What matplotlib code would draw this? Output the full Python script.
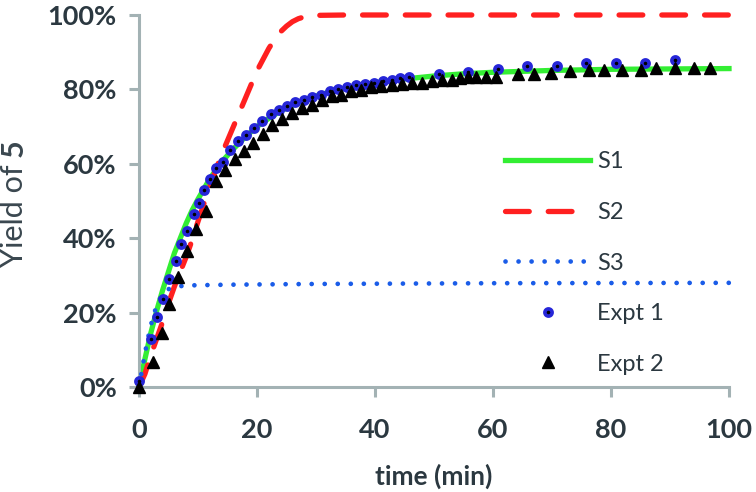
import matplotlib
matplotlib.use('Agg')
import matplotlib.pyplot as plt
from matplotlib.ticker import PercentFormatter

# model curves (time in min, yield as fraction)
s1_t = [0, 1, 2, 3, 4, 5, 6, 7, 8, 9, 10, 12, 14, 16, 18, 20, 22, 24, 26, 28, 30,
        33, 36, 40, 45, 50, 55, 60, 70, 80, 90, 100]
s1_y = [0, 0.075, 0.145, 0.205, 0.26, 0.31, 0.36, 0.40, 0.44, 0.475, 0.505, 0.56,
        0.605, 0.64, 0.672, 0.70, 0.722, 0.742, 0.757, 0.771, 0.782, 0.796, 0.807,
        0.818, 0.828, 0.836, 0.842, 0.846, 0.851, 0.854, 0.855, 0.856]

s2_t = [0, 1, 2, 3, 4, 5, 6, 7, 8, 9, 10, 12, 14, 16, 18, 20, 21, 22, 23, 24, 25,
        26, 27, 28, 30, 35, 100]
s2_y = [0, 0.035, 0.085, 0.13, 0.175, 0.225, 0.27, 0.31, 0.35, 0.395, 0.445, 0.54,
        0.625, 0.70, 0.775, 0.85, 0.88, 0.91, 0.935, 0.955, 0.97, 0.982, 0.99,
        0.995, 0.999, 1.0, 1.0]

s3_t = [0, 0.5, 1, 1.5, 2, 2.5, 3, 3.5, 4, 5, 6, 8, 15, 30, 60, 100]
s3_y = [0, 0.045, 0.09, 0.13, 0.165, 0.195, 0.218, 0.236, 0.249, 0.263, 0.269,
        0.273, 0.275, 0.277, 0.279, 0.28]

# experiments
e1_t = [0, 2.0, 3.0, 4.0, 5.1, 6.2, 7.2, 8.2, 9.3, 10.2, 11.1, 12.0, 13.0, 14.2,
        15.5, 16.8, 18.2, 19.5, 20.9, 22.3, 23.7, 25.1, 26.5, 27.9, 29.3, 30.8,
        32.3, 33.8, 35.3, 36.8, 38.3, 39.8, 41.3, 42.8, 44.3, 45.8, 50.8, 55.8,
        60.8, 65.8, 70.8, 75.8, 80.8, 85.8, 90.8]
e1_y = [0.015, 0.129, 0.187, 0.236, 0.29, 0.339, 0.385, 0.419, 0.464, 0.495, 0.529,
        0.560, 0.588, 0.606, 0.637, 0.660, 0.678, 0.696, 0.716, 0.733, 0.744, 0.755,
        0.766, 0.772, 0.779, 0.786, 0.795, 0.800, 0.806, 0.811, 0.814, 0.818, 0.822,
        0.826, 0.830, 0.832, 0.842, 0.848, 0.854, 0.862, 0.863, 0.871, 0.872, 0.872,
        0.879]

e2_t = [0, 2.3, 3.9, 5.0, 6.6, 8.1, 9.7, 11.3, 13.0, 14.6, 16.2, 17.8, 19.4, 21.0,
        22.6, 24.2, 25.9, 27.6, 29.3, 31.0, 32.7, 34.3, 36.0, 37.7, 39.4, 41.1, 42.8,
        44.5, 46.2, 47.9, 49.6, 51.3, 53.0, 54.4, 55.8, 57.2, 58.8, 60.5, 64.2, 66.9,
        69.9, 73.1, 76.3, 78.8, 81.9, 85.0, 87.7, 90.9, 94.0, 96.7]
e2_y = [0.0, 0.066, 0.146, 0.222, 0.297, 0.365, 0.424, 0.473, 0.553, 0.584, 0.612,
        0.634, 0.655, 0.680, 0.703, 0.721, 0.736, 0.750, 0.759, 0.772, 0.781, 0.786,
        0.795, 0.799, 0.806, 0.810, 0.812, 0.815, 0.817, 0.818, 0.822, 0.826, 0.826,
        0.830, 0.833, 0.833, 0.833, 0.834, 0.842, 0.842, 0.843, 0.849, 0.851, 0.851,
        0.851, 0.852, 0.857, 0.857, 0.857, 0.857]

text_col = '#2b3840'
axis_col = '#a3b2b4'

plt.rcParams['font.family'] = ['Lato', 'DejaVu Sans']

fig = plt.figure(figsize=(7.56, 4.92), dpi=100)
ax = fig.add_axes([139 / 756, 1 - 387 / 492, 590 / 756, 372 / 492])

ax.plot(s1_t, s1_y, color='#33ee33', lw=3.8, label='S1', clip_on=False, zorder=2)
ax.plot(s2_t, s2_y, color='#ff2020', lw=3.8, ls=(0, (4.5, 3.6)),
        dash_capstyle='round', label='S2', clip_on=False, zorder=3)
ax.plot(s3_t, s3_y, color='#1a5ce8', lw=3.4, ls=(0, (0.01, 2.75)),
        dash_capstyle='round', label='S3', clip_on=False, zorder=3)
ax.plot(e1_t, e1_y, ls='none', marker='o', ms=5.2, mfc='black', mec='#2626d8',
        mew=2.6, label='Expt 1', clip_on=False, zorder=4)
ax.plot(e2_t, e2_y, ls='none', marker='^', ms=8.5, color='black',
        label='Expt 2', clip_on=False, zorder=5)

ax.set_xlim(0, 100)
ax.set_ylim(0, 1)
ax.set_xticks([0, 20, 40, 60, 80, 100])
ax.set_yticks([0, 0.2, 0.4, 0.6, 0.8, 1.0])
ax.yaxis.set_major_formatter(PercentFormatter(1.0, decimals=0))

for side in ['top', 'right']:
    ax.spines[side].set_visible(False)
for side in ['left', 'bottom']:
    ax.spines[side].set_color(axis_col)
    ax.spines[side].set_linewidth(2.2)

ax.tick_params(axis='both', direction='out', length=7, width=2.2, color=axis_col,
               labelsize=19.5, labelcolor=text_col)
ax.tick_params(axis='y', pad=9)
ax.tick_params(axis='x', pad=15)
for lbl in ax.get_xticklabels() + ax.get_yticklabels():
    lbl.set_fontweight('bold')

ax.set_xlabel('time (min)', fontsize=19, fontweight='bold', color=text_col, labelpad=16)

# y label: "Yield of " regular + bold "5", stacked upwards
ylab_col = '#3a474f'
yl1 = fig.text(14 / 756, 1 - 267 / 492, 'Yield of ', rotation=90, rotation_mode='anchor',
               ha='left', va='center', fontsize=22, color=ylab_col)
fig.canvas.draw()
bb = yl1.get_window_extent()
fig.text(14 / 756, bb.y1 / fig.bbox.height, '5', rotation=90, rotation_mode='anchor',
         ha='left', va='center', fontsize=22, fontweight='bold', color=ylab_col)

leg = fig.legend(loc='center left', bbox_to_anchor=(505 / 756, 1 - 263 / 492),
                 frameon=False, fontsize=17, handlelength=3.6, handletextpad=0.3,
                 labelspacing=1.25, borderpad=0, borderaxespad=0, numpoints=1)
for t in leg.get_texts():
    t.set_color(text_col)

fig.savefig('out.png', dpi=100)
